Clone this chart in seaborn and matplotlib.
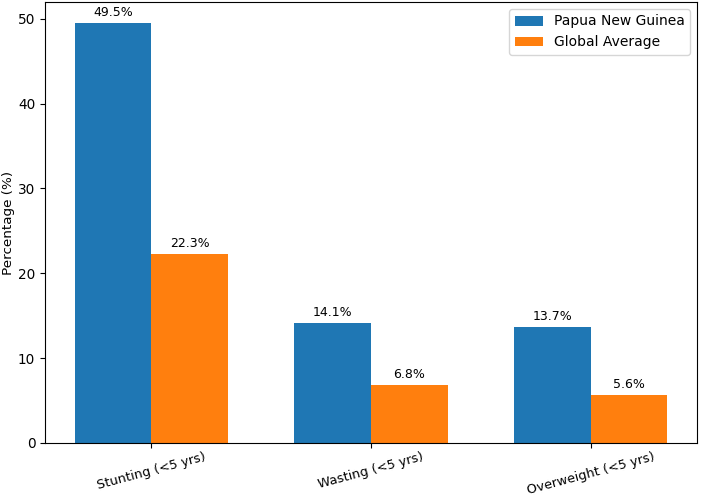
import pandas as pd
import seaborn as sns
import matplotlib
matplotlib.use("Agg")
import matplotlib.pyplot as plt

# data
indicators = ['Stunting (<5 yrs)', 'Wasting (<5 yrs)', 'Overweight (<5 yrs)']
png_values = [49.5, 14.1, 13.7]
global_values = [22.3, 6.8, 5.6]
series_names = ['Papua New Guinea', 'Global Average']

df = pd.DataFrame({
    'indicator': indicators * 2,
    'value': png_values + global_values,
    'series': [series_names[0]] * 3 + [series_names[1]] * 3,
})

fig = plt.figure(figsize=(7.01, 4.96), dpi=100)
ax = fig.add_axes([45 / 701, 1 - 443 / 496, 652 / 701, 441 / 496])

sns.barplot(data=df, x='indicator', y='value', hue='series',
            palette=['#1f77b4', '#ff7f0e'], width=0.7, saturation=1,
            errorbar=None, ax=ax)

for c in ax.containers:
    ax.bar_label(c, fmt='%.1f%%', padding=3, fontsize=9)

ax.set_xlim(-0.485, 2.485)
ax.set_ylim(0, 51.975)
ax.set_xlabel('')
ax.set_ylabel('Percentage (%)', fontsize=9.7, labelpad=2)
ax.tick_params(axis='x', pad=2, labelsize=9.3)
ax.tick_params(axis='y', labelsize=9.8)
plt.setp(ax.get_xticklabels(), rotation=15)
ax.legend(loc='upper right', title=None)

fig.savefig('out.png', dpi=100)
